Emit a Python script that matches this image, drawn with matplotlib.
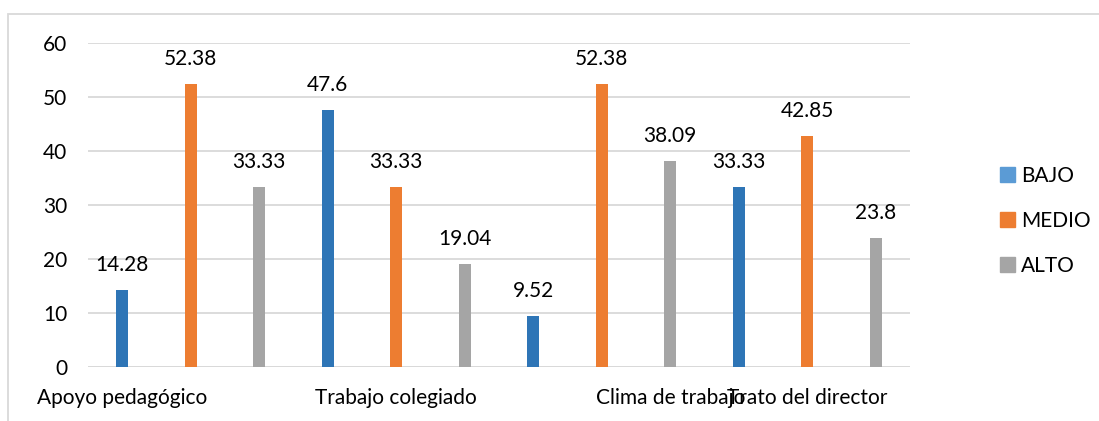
import matplotlib.pyplot as plt
from matplotlib.patches import Patch, Rectangle
import numpy as np

# data
series = ['BAJO', 'MEDIO', 'ALTO']
bajo = [14.28, 47.6, 9.52, 33.33]
medio = [52.38, 33.33, 52.38, 42.85]
alto = [33.33, 19.04, 38.09, 23.8]
tick_labels = ['Apoyo pedagógico', '', '', '', 'Trabajo colegiado', '', '', '',
               'Clima de trabajo', '', 'Trato del director', '']

bar_colors = ['#2E75B6', '#ED7D31', '#A5A5A5']
legend_colors = ['#5B9BD5', '#ED7D31', '#A5A5A5']
grid_col = '#D9D9D9'

plt.rcParams['font.family'] = ['Lato', 'DejaVu Sans']
plt.rcParams['font.size'] = 15

fig = plt.figure(figsize=(10.99, 4.21), dpi=100)
ax = fig.add_axes([88 / 1099, 1 - 367 / 421, 822 / 1099, 324 / 421])

# chart frame
fig.patches.append(Rectangle((8 / 1099, -0.05), 1.2, 1 - 14 / 421 + 0.05,
                             transform=fig.transFigure, fill=False,
                             edgecolor=grid_col, linewidth=1.3))

for k, vals in enumerate([bajo, medio, alto]):
    xs = [3 * i + k for i in range(len(vals))]
    ax.bar(xs, vals, width=0.175, color=bar_colors[k], zorder=3)
    for x, v in zip(xs, vals):
        ax.annotate(str(v), (x, v), xytext=(0, 18), textcoords='offset points',
                    ha='center', va='center', color='#000000')

ax.set_xlim(-0.5, 11.5)
ax.set_ylim(0, 60)
ax.set_yticks(np.arange(0, 61, 10))
ax.set_xticks(range(12))
ax.set_xticklabels(tick_labels)
ax.tick_params(axis='both', length=0)
ax.tick_params(axis='y', pad=15)
ax.tick_params(axis='x', pad=15)
ax.yaxis.grid(True, color=grid_col, linewidth=1.3, zorder=0)
for s in ax.spines.values():
    s.set_visible(False)
ax.axhline(0, color=grid_col, linewidth=1.3, zorder=2)

handles = [Patch(color=c, label=l) for c, l in zip(legend_colors, series)]
fig.legend(handles=handles, loc='center left', bbox_to_anchor=(992 / 1099, 1 - 221 / 421),
           frameon=False, handlelength=0.7, handleheight=0.7, handletextpad=0.3,
           labelspacing=1.2, borderaxespad=0)

plt.savefig('out.png', dpi=100)
